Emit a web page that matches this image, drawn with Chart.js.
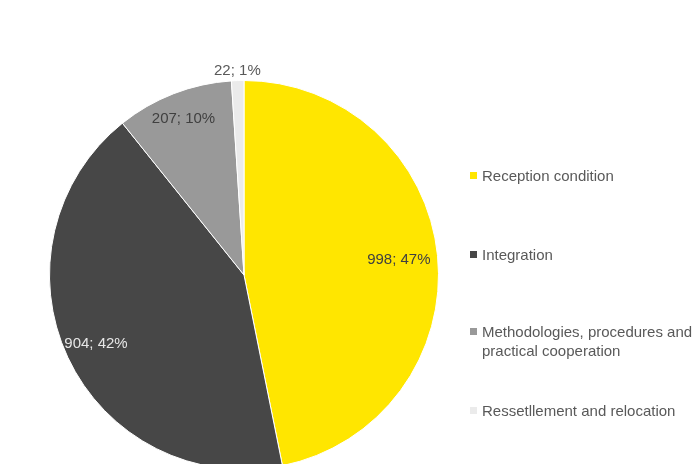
<!DOCTYPE html>
<html>
<head>
<meta charset="utf-8">
<script src="https://cdn.jsdelivr.net/npm/chart.js@4/dist/chart.umd.min.js"></script>
<style>
  html, body { margin: 0; padding: 0; background: #fff; overflow: hidden; }
  #wrap { position: relative; width: 697px; height: 464px; overflow: hidden; }
  #box { position: absolute; left: 0; top: 0; width: 697px; height: 490px; }
  .leg { position: absolute; left: 470px; font: 15px "Liberation Sans", Arial, sans-serif; color: #595959; line-height: 19px; }
  .leg i { position: absolute; left: 0; top: 6px; width: 7px; height: 7px; }
  .leg span { display: block; margin-left: 12px; width: 230px; }
</style>
</head>
<body>
<div id="wrap">
  <div id="box"><canvas id="pie"></canvas></div>
  <div id="legend"></div>
</div>
<script>
const categories = [
  "Reception condition",
  "Integration",
  "Methodologies, procedures and practical cooperation",
  "Ressetllement and relocation"
];
const counts = [998, 904, 207, 22];
const shares = [47, 42, 10, 1];
const colors = ["#ffe600", "#474747", "#999999", "#ebebeb"];

// label placement per slice: fraction of radius, text colour
const labelRadius = [0.8, 0.84, 0.86, 1.05];
const labelColors = ["#404040", "#e6e6e6", "#404040", "#595959"];
const legendTops = [166, 245, 322, 401];

const sliceLabels = {
  id: "sliceLabels",
  afterDatasetsDraw(chart) {
    const ctx = chart.ctx;
    const arcs = chart.getDatasetMeta(0).data;
    ctx.save();
    ctx.font = '15px "Liberation Sans", Arial, sans-serif';
    ctx.textAlign = "center";
    ctx.textBaseline = "middle";
    arcs.forEach((arc, i) => {
      const p = arc.getProps(["x", "y", "startAngle", "endAngle", "outerRadius"], true);
      const mid = (p.startAngle + p.endAngle) / 2;
      const r = p.outerRadius * labelRadius[i];
      ctx.fillStyle = labelColors[i];
      ctx.fillText(counts[i] + "; " + shares[i] + "%", p.x + Math.cos(mid) * r, p.y + Math.sin(mid) * r);
    });
    ctx.restore();
  }
};

new Chart(document.getElementById("pie"), {
  type: "pie",
  data: {
    labels: categories,
    datasets: [{
      data: counts,
      backgroundColor: colors,
      borderColor: "#ffffff",
      borderWidth: 1
    }]
  },
  options: {
    responsive: true,
    maintainAspectRatio: false,
    animation: false,
    layout: { padding: { left: 49, right: 258, top: 80, bottom: 20 } },
    plugins: { legend: { display: false }, tooltip: { enabled: false } }
  },
  plugins: [sliceLabels]
});

// legend on the right
const legend = document.getElementById("legend");
categories.forEach((name, i) => {
  const item = document.createElement("div");
  item.className = "leg";
  item.style.top = legendTops[i] + "px";
  item.innerHTML = '<i style="background:' + colors[i] + '"></i><span>' + name + "</span>";
  legend.appendChild(item);
});
</script>
</body>
</html>
